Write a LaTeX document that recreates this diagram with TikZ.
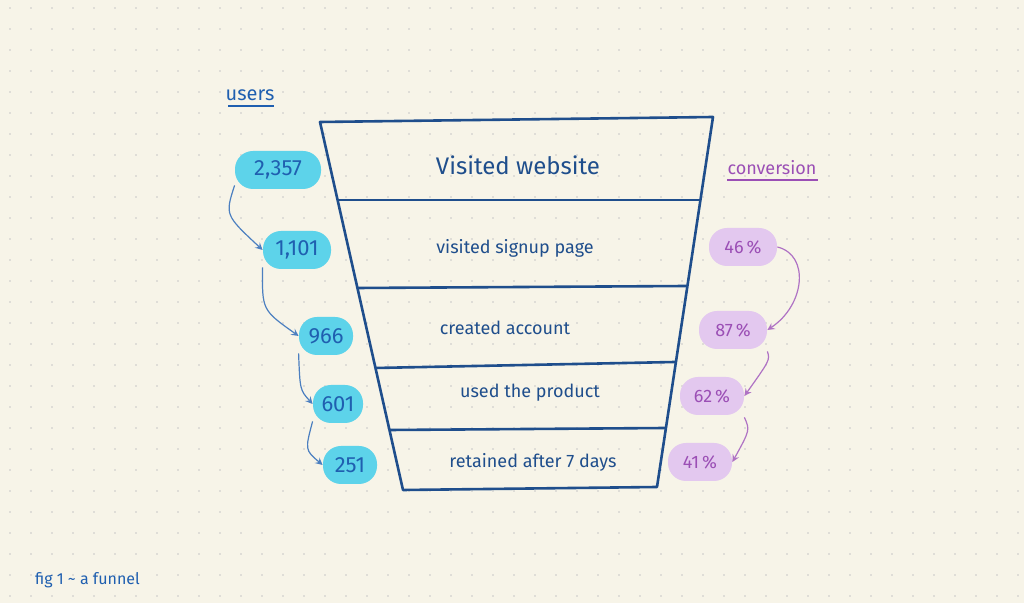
\documentclass[tikz,border=0pt]{standalone}
\usepackage{fontspec}
\setmainfont{Fira Sans}
\definecolor{bg}{HTML}{F7F4E8}
\definecolor{ink}{HTML}{1F4E8C}
\definecolor{uc}{HTML}{5DD3EA}
\definecolor{ut}{HTML}{1F5FB0}
\definecolor{pc}{HTML}{E3C8EF}
\definecolor{pt}{HTML}{9B4FB5}
\tikzset{
 ublob/.style={fill=uc,rounded corners=9pt,minimum height=19pt,text=ut,font=\fontsize{11}{11}\selectfont,inner sep=0pt},
 pblob/.style={fill=pc,rounded corners=9pt,minimum height=19pt,text=pt,font=\fontsize{9}{9}\selectfont,inner sep=0pt},
 lab/.style={text=ink,font=\fontsize{9}{9}\selectfont},
 uarr/.style={draw=ut!80,line width=0.6pt,-stealth},
 parr/.style={draw=pt!80,line width=0.6pt,-stealth},
 fline/.style={draw=ink,line width=1.3pt}
}
\begin{document}
\begin{tikzpicture}[x=0.5pt,y=-0.5pt]
\fill[bg] (0,0) rectangle (1024,603);
\useasboundingbox (0,0) rectangle (1024,603);
\foreach \i in {0,...,48}{\foreach \j in {0,...,28}{\fill[black!22] (10+21*\i,8+21*\j) circle (0.9);}}
% funnel
\coordinate (tl) at (320,122); \coordinate (tr) at (713,117);
\coordinate (bl) at (403,490); \coordinate (br) at (657,487);
\draw[fline,line join=round] (tl) -- (tr) -- (br) -- (bl) -- cycle;
\coordinate (l1) at (338,200); \coordinate (r1) at (700,200);
\coordinate (l2) at (357,288); \coordinate (r2) at (687,286);
\coordinate (l3) at (375,368); \coordinate (r3) at (675,362);
\coordinate (l4) at (390,430); \coordinate (r4) at (666,428);
\draw[fline] (l1)--(r1); \draw[fline] (l2)--(r2); \draw[fline] (l3)--(r3); \draw[fline] (l4)--(r4);
\node[lab,font=\fontsize{12}{12}\selectfont] (s1) at (518,165) {Visited website};
\node[lab] (s2) at (515,248) {visited signup page};
\node[lab] (s3) at (505,328) {created account};
\node[lab] (s4) at (530,393) {used the product};
\node[lab] (s5) at (533,462) {retained after 7 days};
% users
\node[text=ut,font=\fontsize{10}{10}\selectfont] (users) at (250,95) {users};
\draw[ut,line width=0.6pt] (228,106) -- (274,106);
\node[ublob,minimum width=43pt] (u1) at (278,170) {2,357};
\node[ublob,minimum width=34pt] (u2) at (297,250) {1,101};
\node[ublob,minimum width=27pt] (u3) at (326,336) {966};
\node[ublob,minimum width=25pt] (u4) at (338,404) {601};
\node[ublob,minimum width=27pt] (u5) at (350,465) {251};
\draw[uarr] (u1.south west) ++(0,-4) .. controls (225,215) .. (u2.west);
\draw[uarr] (u2.south west) ++(0,-2) .. controls (262,310) .. (u3.west);
\draw[uarr] (u3.south west) ++(0,-2) .. controls (300,390) .. (u4.west);
\draw[uarr] (u4.south west) ++(0,-2) .. controls (305,450) .. (u5.west);
% conversion
\node[text=pt,font=\fontsize{9}{9}\selectfont] (conv) at (772,168) {conversion};
\draw[pt,line width=0.6pt] (727,180) -- (818,180);
\node[pblob,minimum width=34pt] (p1) at (743,247) {46\,\%};
\node[pblob,minimum width=34pt] (p2) at (733,330) {87\,\%};
\node[pblob,minimum width=32pt] (p3) at (712,396) {62\,\%};
\node[pblob,minimum width=32pt] (p4) at (700,462) {41\,\%};
\draw[parr] (p1.east) .. controls (810,255) and (805,305) .. (p2.east);
\draw[parr] (p2.south east) ++(0,2) .. controls (770,360) .. (p3.east);
\draw[parr] (p3.south east) ++(0,2) .. controls (750,430) .. (p4.east);
\node[text=ut,font=\fontsize{8}{8}\selectfont,anchor=west] (fig) at (28,580) {fig 1 \textasciitilde{} a funnel};
\end{tikzpicture}
\end{document}
